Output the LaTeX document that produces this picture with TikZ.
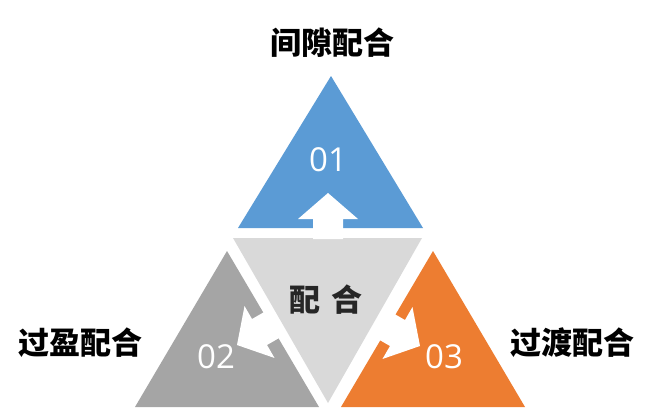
\documentclass[tikz,border=0pt]{standalone}
\usepackage{fontspec}
\setmainfont{Open Sans}
\newfontfamily\cjk{Noto Sans CJK SC}
\definecolor{cblue}{HTML}{5B9BD5}
\definecolor{cgray}{HTML}{A5A5A5}
\definecolor{corange}{HTML}{ED7D31}
\definecolor{clight}{HTML}{D9D9D9}
\definecolor{ctext}{HTML}{262626}
\begin{document}
\begin{tikzpicture}[x=1pt,y=-1pt,
  numtext/.style={text=white,inner sep=0pt,font=\fontsize{33}{36}\selectfont},
  titletext/.style={text=black,inner sep=0pt,font=\cjk\bfseries\fontsize{31}{35}\selectfont},
  centertext/.style={text=ctext,inner sep=0pt,font=\cjk\bfseries\fontsize{31}{35}\selectfont},
  blockarrow/.style={fill=white,draw=none}]
\useasboundingbox[fill=white] (0,0) rectangle (656,407);
% triangles
\fill[cblue] (331,76) -- (423,228) -- (238,228) -- cycle;
\fill[clight] (233,238) -- (422,238) -- (328,403) -- cycle;
\fill[cgray] (227,251) -- (319,407) -- (135,407) -- cycle;
\fill[corange] (433,251) -- (525,407) -- (341,407) -- cycle;
% block arrows
\fill[blockarrow,shift={(328,193)},rotate=90]
  (0,0) -- (-26,30) -- (-26,15) -- (-46,15) -- (-46,-15) -- (-26,-15) -- (-26,-30) -- cycle;
\fill[blockarrow,shift={(237,345)},rotate=210]
  (0,0) -- (-26,30) -- (-26,15) -- (-46,15) -- (-46,-15) -- (-26,-15) -- (-26,-30) -- cycle;
\fill[blockarrow,shift={(420,346)},rotate=-30]
  (0,0) -- (-26,30) -- (-26,15) -- (-46,15) -- (-46,-15) -- (-26,-15) -- (-26,-30) -- cycle;
% numbers
\node[numtext] (n1) at (328,160) {01};
\node[numtext] (n2) at (216,357) {02};
\node[numtext] (n3) at (444,357) {03};
% labels
\node[titletext] (t1) at (332,43) {间隙配合};
\node[titletext] (t2) at (81,343) {过盈配合};
\node[titletext] (t3) at (572,343) {过渡配合};
\node[centertext] (c) at (326,300) {配\hspace{3pt} 合};
\end{tikzpicture}
\end{document}
